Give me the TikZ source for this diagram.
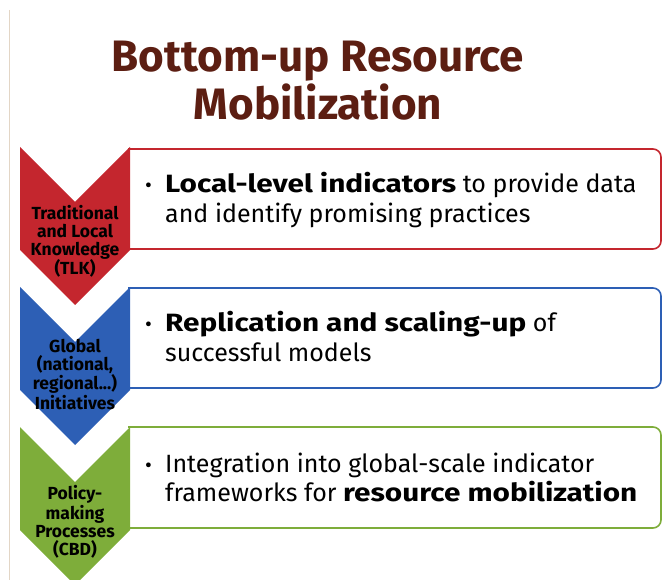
\documentclass[tikz,border=0pt]{standalone}
\usepackage{fontspec}
\setmainfont{Fira Sans}
\usetikzlibrary{positioning}

\definecolor{titlebrown}{HTML}{5C1E12}
\definecolor{tlkred}{HTML}{C4262E}
\definecolor{glblue}{HTML}{2D5FB5}
\definecolor{cbdgreen}{HTML}{7EAD3A}
\definecolor{edgetan}{HTML}{E3D6C6}

\newcommand{\bw}[1]{{\bfseries\addfontfeature{FakeStretch=1.19}#1}}

\tikzset{
    chevlbl/.style={align=center, font=\bfseries\fontsize{17.5}{18}\selectfont, text=black, inner sep=0pt, anchor=base},
    boxline/.style={line width=1.6pt, rounded corners=8pt},
    boxtxt/.style={anchor=base west, align=left, font=\fontsize{25}{29.5}\selectfont, inner sep=0pt},
    bul/.style={anchor=base west, font=\fontsize{21}{29.5}\selectfont, inner sep=0pt}
}

\begin{document}
\begin{tikzpicture}[x=1pt, y=-1pt]
    \useasboundingbox (0,0) rectangle (662,580);
    \draw[edgetan, line width=1pt] (9,10) -- (9,580);

    % title
    \node (title)[align=center, anchor=base, inner sep=0pt, text=titlebrown, font=\bfseries\fontsize{44}{48}\selectfont] at (318,120) {Bottom-up Resource\\Mobilization};

    % boxes
    \draw[boxline, tlkred] (128,149) -- (661,149) -- (661,249) -- (128,249);
    \draw[boxline, glblue] (128,288) -- (661,288) -- (661,388) -- (128,388);
    \draw[boxline, cbdgreen] (128,427) -- (661,427) -- (661,528) -- (128,528);

    % chevrons
    \fill[tlkred] (20,147) -- (75,202) -- (130,147) -- (130,250) -- (75,305) -- (20,250) -- cycle;
    \fill[glblue] (20,287) -- (75,342) -- (130,287) -- (130,390) -- (75,445) -- (20,390) -- cycle;
    \fill[cbdgreen] (20,427) -- (75,482) -- (130,427) -- (130,530) -- (75,585) -- (20,530) -- cycle;

    \node (tlk)[chevlbl] at (75,275) {Traditional\\and Local\\Knowledge\\(TLK)};
    \node (glob)[chevlbl] at (75,409) {Global\\(national,\\regional...)\\Initiatives};
    \node (cbd)[chevlbl] at (75,555) {Policy-\\making\\Processes\\(CBD)};

    % box texts
    \node (b1)[bul] at (145,193) {•};
    \node (t1)[boxtxt] at (165,222.5) {\bw{Local-level indicators} to provide data\\and identify promising practices};
    \node (b2)[bul] at (145,332) {•};
    \node (t2)[boxtxt] at (165,361.5) {\bw{Replication and scaling-up} of\\successful models};
    \node (b3)[bul] at (145,472) {•};
    \node (t3)[boxtxt] at (165,501.5) {Integration into global-scale indicator\\frameworks for \bw{resource mobilization}};
\end{tikzpicture}
\end{document}
